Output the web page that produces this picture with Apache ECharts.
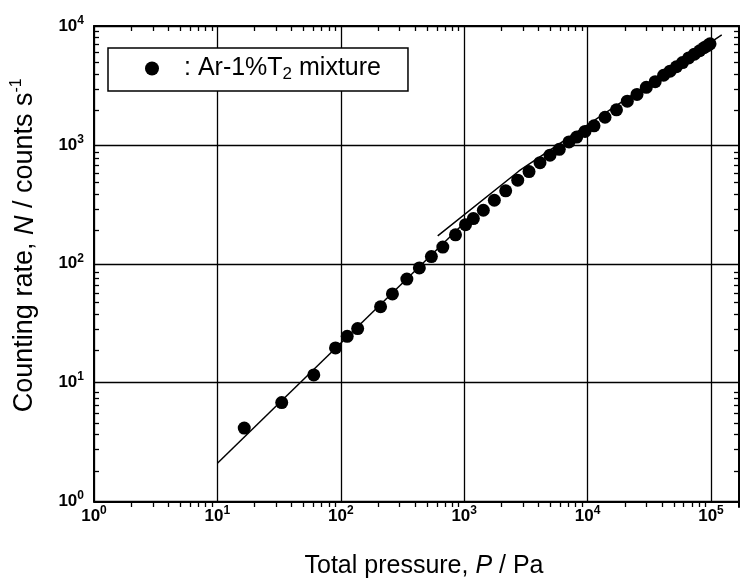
<!DOCTYPE html>
<html><head><meta charset="utf-8">
<script src="https://cdn.jsdelivr.net/npm/echarts@6/dist/echarts.min.js"></script>
<style>html,body{margin:0;padding:0;background:#fff}#c{width:740px;height:584px}</style>
</head><body><div id="c"></div>
<script>
// ---- data ----
const pressure = [16.5, 33.2, 60.4, 90.6, 112.7, 137, 210, 262, 343, 433, 542, 671, 850, 1025, 1186, 1429, 1755, 2169, 2714, 3352, 4113, 4955, 5897, 7068, 8162, 9527, 11270, 13840, 17140, 20980, 25140, 29910, 35300, 41300, 46550, 52440, 58750, 65900, 73300, 81000, 87700, 93700, 98200];
const countRate = [4.15, 6.8, 11.6, 19.6, 24.5, 28.5, 43.5, 55.7, 74.3, 92.3, 114.8, 138, 175, 213, 240, 282, 342, 411, 505, 596, 708, 819, 918, 1058, 1164, 1297, 1445, 1708, 1971, 2330, 2658, 3050, 3402, 3854, 4169, 4540, 4920, 5384, 5790, 6193, 6560, 6820, 7080];
const fitLowP = [10, 1000];
const fitLowN = [2.1, 220];
const fitHighP = [610, 2780, 122200];
const fitHighN = [171.5, 603, 8414];
const xMajorTicks = [1, 10, 100, 1000, 10000, 100000];
const yMajorTicks = [1, 10, 100, 1000, 10000];
const minorMultipliers = [2, 3, 4, 5, 6, 7, 8, 9];
const xMin = 1, xMax = 168600, yMin = 1, yMax = 10000;
const seriesName = 'Ar-1%T2 mixture';

const xMinor = xMajorTicks.flatMap(d => minorMultipliers.map(m => m * d)).filter(v => v < xMax);
const yMinor = yMajorTicks.slice(0, -1).flatMap(d => minorMultipliers.map(m => m * d));

const FONT = '"Liberation Sans", Arial, sans-serif';
const pairs = (a, b) => a.map((v, i) => [v, b[i]]);
const powLabel = v => '{b|10}{s|' + Math.round(Math.log10(v)) + '}';
const labelRich = {
  b: {fontFamily: FONT, fontSize: 17, fontWeight: 'bold', color: '#000', lineHeight: 23},
  s: {fontFamily: FONT, fontSize: 12, fontWeight: 'bold', color: '#000', lineHeight: 10, verticalAlign: 'top'}
};
const nameRich = (fs) => ({
  t: {fontFamily: FONT, fontSize: fs, color: '#000', lineHeight: fs + 5},
  i: {fontFamily: FONT, fontSize: fs, fontStyle: 'italic', color: '#000', lineHeight: fs + 5},
  s: {fontFamily: FONT, fontSize: 16, color: '#000', lineHeight: 14, verticalAlign: 'top'}
});
const lineBlack = w => ({color: '#000', width: w});

const minorAxis = (pos, grid, vals, min, max, showLine) => ({
  type: 'log', gridIndex: grid, position: pos, min: min, max: max,
  axisLine: {show: showLine, lineStyle: lineBlack(2)},
  axisTick: {show: true, inside: true, length: 5, customValues: vals, lineStyle: lineBlack(1.3)},
  axisLabel: {show: false}, splitLine: {show: false}, minorTick: {show: false}
});

const option = {
  animation: false,
  backgroundColor: '#fff',
  grid: [
    {left: 94, right: 1, top: 26, bottom: 77},
    {left: 94, right: 1, top: 26, bottom: 77}
  ],
  legend: {
    data: [seriesName], left: 108, top: 48, icon: 'circle', itemWidth: 14, itemHeight: 14,
    padding: [8, 27, 8, 37], borderColor: '#000', borderWidth: 1.5, backgroundColor: '#fff',
    formatter: () => '{p|: Ar-1%T}{sub|2}{a| mixture}',
    textStyle: {
      rich: {
        p: {fontFamily: FONT, fontSize: 25, color: '#000', lineHeight: 29, padding: [0, 0, 0, 20]},
        sub: {fontFamily: FONT, fontSize: 17, color: '#000', lineHeight: 6, verticalAlign: 'bottom'},
        a: {fontFamily: FONT, fontSize: 25, color: '#000', lineHeight: 29}
      }
    }
  },
  xAxis: [
    {
      type: 'log', gridIndex: 0, position: 'bottom', min: xMin, max: xMax,
      axisLine: {show: true, lineStyle: lineBlack(2)},
      axisTick: {show: false},
      axisLabel: {customValues: xMajorTicks, formatter: powLabel, rich: labelRich, margin: 3},
      splitLine: {show: true, lineStyle: lineBlack(1.3)},
      name: '{t|Total pressure, }{i|P}{t| / Pa}', nameLocation: 'middle', nameGap: 50,
      nameTextStyle: {rich: nameRich(25), padding: [0, 0, 0, 15]}
    },
    minorAxis('bottom', 1, xMinor, xMin, xMax, false),
    minorAxis('top', 1, xMinor, xMin, xMax, true)
  ],
  yAxis: [
    {
      type: 'log', gridIndex: 0, position: 'left', min: yMin, max: yMax,
      axisLine: {show: true, lineStyle: lineBlack(2)},
      axisTick: {show: false},
      axisLabel: {customValues: yMajorTicks, formatter: powLabel, rich: labelRich, margin: 10},
      splitLine: {show: true, lineStyle: lineBlack(1.3)},
      name: '{t|Counting rate, }{i|N}{t| / counts s}{s|-1}', nameLocation: 'middle', nameGap: 53,
      nameTextStyle: {rich: nameRich(27), padding: [0, 0, 0, 37]}
    },
    minorAxis('left', 1, yMinor, yMin, yMax, false),
    minorAxis('right', 1, yMinor, yMin, yMax, true)
  ],
  series: [
    {type: 'line', xAxisIndex: 0, yAxisIndex: 0, data: pairs(fitLowP, fitLowN), showSymbol: false, symbol: 'none',
     lineStyle: lineBlack(1.5), z: 1, silent: true},
    {type: 'line', xAxisIndex: 0, yAxisIndex: 0, data: pairs(fitHighP, fitHighN), showSymbol: false, symbol: 'none',
     lineStyle: lineBlack(1.5), z: 1, silent: true},
    {name: seriesName, type: 'scatter', xAxisIndex: 0, yAxisIndex: 0, data: pairs(pressure, countRate),
     symbol: 'circle', symbolSize: 13, itemStyle: {color: '#000', opacity: 1}, z: 3}
  ]
};
echarts.init(document.getElementById('c'), null, {renderer: 'canvas'}).setOption(option);
</script></body></html>
